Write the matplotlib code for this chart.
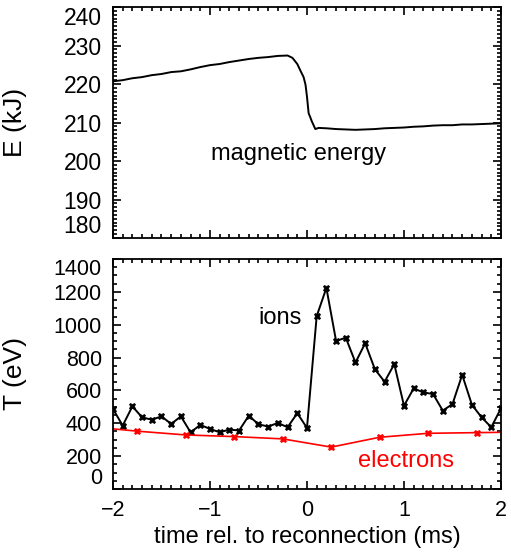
import numpy as np
import matplotlib
matplotlib.use('Agg')
import matplotlib.pyplot as plt
from matplotlib.ticker import MultipleLocator

plt.rcParams['font.family'] = ['Liberation Sans', 'DejaVu Sans']

#############################################
## data
t_mag = [-2.0, -1.9, -1.8, -1.7, -1.6, -1.5, -1.4, -1.3, -1.2, -1.1, -1.0,
         -0.9, -0.8, -0.7, -0.6, -0.5, -0.4, -0.3, -0.2, -0.15, -0.1, -0.07,
         -0.035, -0.015, 0.0, 0.017, 0.035, 0.05, 0.07, 0.086, 0.12, 0.2,
         0.3, 0.4, 0.5, 0.6, 0.7, 0.8, 0.9, 1.0, 1.1, 1.2, 1.3, 1.4, 1.5,
         1.6, 1.7, 1.8, 1.9, 2.0]
E_mag = [220.7, 221.0, 221.5, 221.8, 222.3, 222.6, 223.1, 223.3, 223.8, 224.4, 224.9,
         225.2, 225.7, 226.1, 226.5, 226.8, 227.0, 227.3, 227.4, 226.8, 225.2, 223.6,
         221.8, 219.8, 216.7, 212.4, 211.3, 210.3, 209.2, 208.3, 208.6, 208.5,
         208.3, 208.2, 208.1, 208.2, 208.3, 208.5, 208.6, 208.7, 208.9, 209.0, 209.2, 209.3, 209.3,
         209.5, 209.5, 209.6, 209.7, 209.8]

t_ion = [-2.0, -1.9, -1.8, -1.7, -1.6, -1.5, -1.4, -1.3, -1.2, -1.1, -1.0,
         -0.9, -0.8, -0.7, -0.6, -0.5, -0.4, -0.3, -0.2, -0.1, 0.0,
         0.1, 0.2, 0.3, 0.4, 0.5, 0.6, 0.7, 0.8, 0.9, 1.0,
         1.1, 1.2, 1.3, 1.4, 1.5, 1.6, 1.7, 1.8, 1.9, 2.0]
T_ion = [487, 386, 503, 436, 422, 442, 396, 442, 345, 390, 366,
         345, 362, 356, 446, 394, 380, 402, 376, 461, 372,
         1052, 1224, 901, 921, 770, 887, 729, 653, 760, 507,
         612, 588, 578, 477, 517, 695, 513, 436, 376, 491]

t_ele = [-2.25, -1.75, -1.25, -0.75, -0.25, 0.25, 0.75, 1.25, 1.75, 2.25]
T_ele = [380, 352, 329, 319, 305, 255, 315, 339, 343, 347]

#############################################
fig = plt.figure(figsize=(5.11, 5.57), dpi=100)
ax1 = fig.add_axes([0.2211, 0.5727, 0.7593, 0.4147])
ax2 = fig.add_axes([0.2211, 0.1221, 0.7593, 0.4129])

## Magnetic energy
ax1.plot(t_mag, E_mag, color='black', linewidth=1.4)
ax1.set_xlim(-2, 2)
ax1.set_ylim(180, 240)
ax1.set_yticks([180, 190, 200, 210, 220, 230, 240])
ax1.xaxis.set_major_locator(MultipleLocator(1))
ax1.xaxis.set_minor_locator(MultipleLocator(0.1))
ax1.yaxis.set_minor_locator(MultipleLocator(1))
ax1.set_xticklabels([])
ax1.set_ylabel('E (kJ)', fontsize=19)
ax1.yaxis.set_label_coords(-0.221, 0.5)
ax1.text(-0.09, 201.8, 'magnetic energy', fontsize=17, ha='center', va='center')

## Temperatures
ax2.plot(t_ion, T_ion, color='black', linewidth=1.4, marker='X', markersize=5,
         markeredgewidth=0.5)
ax2.plot(t_ele, T_ele, color='#FF0000', linewidth=1.2, marker='X', markersize=5,
         markeredgewidth=0.5)
ax2.set_xlim(-2, 2)
ax2.set_ylim(0, 1400)
ax2.set_yticks([0, 200, 400, 600, 800, 1000, 1200, 1400])
ax2.xaxis.set_major_locator(MultipleLocator(1))
ax2.xaxis.set_minor_locator(MultipleLocator(0.1))
ax2.yaxis.set_minor_locator(MultipleLocator(50))
ax2.set_ylabel('T (eV)', fontsize=19)
ax2.yaxis.set_label_coords(-0.221, 0.5)
ax2.set_xlabel('time rel. to reconnection (ms)', fontsize=17)
ax2.xaxis.set_label_coords(0.5, -0.16)
ax2.text(-0.28, 1040, 'ions', fontsize=17, ha='center', va='center')
ax2.text(1.02, 170, 'electrons', fontsize=17, ha='center', va='center', color='#FF0000')

for ax, ysize in ((ax1, 16.5), (ax2, 15.5)):
    for s in ax.spines.values():
        s.set_linewidth(1.3)
    ax.tick_params(which='both', direction='in', top=True, right=True, width=1.2)
    ax.tick_params(which='major', length=6)
    ax.tick_params(which='minor', length=3)
    ax.tick_params(axis='y', labelsize=ysize, pad=8)
    ax.tick_params(axis='x', labelsize=15.5, pad=8)
    # end labels pushed inside, like the original
    yt = ax.yaxis.get_major_ticks()
    yt[0].label1.set_va('bottom')
    yt[-1].label1.set_va('top')

fig.savefig('out.png', dpi=100)
